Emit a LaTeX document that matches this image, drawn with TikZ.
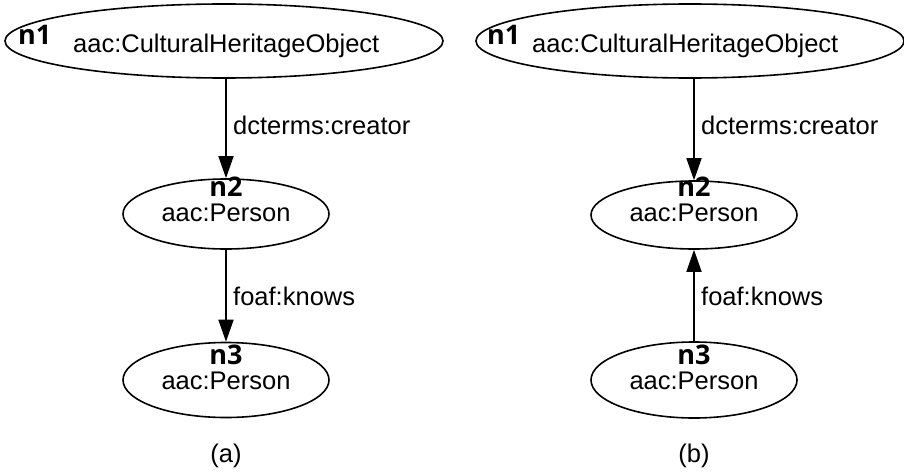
\documentclass[tikz,border=0pt]{standalone}
\usepackage{fontspec}
\setmainfont{Liberation Sans}
\newfontfamily\tagfont{Open Sans}
\usetikzlibrary{shapes.geometric,arrows.meta}
\begin{document}
\begin{tikzpicture}[x=1pt,y=-1pt,
  cls/.style={ellipse,draw,line width=1.6pt,inner sep=0pt},
  txt/.style={font=\fontsize{25.5}{25.5}\selectfont,inner sep=0pt,anchor=base},
  tag/.style={font=\tagfont\bfseries\fontsize{27}{27}\selectfont,inner sep=0pt,anchor=base},
  rel/.style={line width=1.6pt,-{Triangle[length=22pt,width=15pt]}},
  elab/.style={txt,anchor=base west}]
\useasboundingbox (0,0) rectangle (904,476);

% ---------- panel (a) ----------
\node[cls,minimum width=438,minimum height=74] (a1) at (224,41) {};
\node[tag,anchor=base west] (a1t) at (18,45) {n1};
\node[elab] (a1c) at (73,53) {aac:CulturalHeritageObject};
\node[cls,minimum width=206,minimum height=70] (a2) at (226,214) {};
\node[tag] (a2t) at (226,196) {n2};
\node[txt] (a2c) at (226,221) {aac:Person};
\node[cls,minimum width=206,minimum height=75] (a3) at (226,380) {};
\node[tag] (a3t) at (226,364) {n3};
\node[txt] (a3c) at (226,389) {aac:Person};
\draw[rel] (a1.south -| a2.north) -- (a2.north);
\draw[rel] (a2) -- (a3);
\node[elab] (ae1) at (233,135) {dcterms:creator};
\node[elab] (ae2) at (233,305) {foaf:knows};
\node[txt] (acap) at (226,462) {(a)};

% ---------- panel (b) ----------
\node[cls,minimum width=428,minimum height=74] (b1) at (690,41) {};
\node[tag,anchor=base west] (b1t) at (487,45) {n1};
\node[elab] (b1c) at (532,53) {aac:CulturalHeritageObject};
\node[cls,minimum width=206,minimum height=68] (b2) at (694,215) {};
\node[tag] (b2t) at (694,196) {n2};
\node[txt] (b2c) at (694,221) {aac:Person};
\node[cls,minimum width=206,minimum height=76] (b3) at (694,380) {};
\node[tag] (b3t) at (694,364) {n3};
\node[txt] (b3c) at (694,389) {aac:Person};
\draw[rel] (b1.south -| b2.north) -- (b2.north);
\draw[rel] (b3) -- (b2);
\node[elab] (be1) at (701,135) {dcterms:creator};
\node[elab] (be2) at (701,305) {foaf:knows};
\node[txt] (bcap) at (694,462) {(b)};
\end{tikzpicture}
\end{document}
